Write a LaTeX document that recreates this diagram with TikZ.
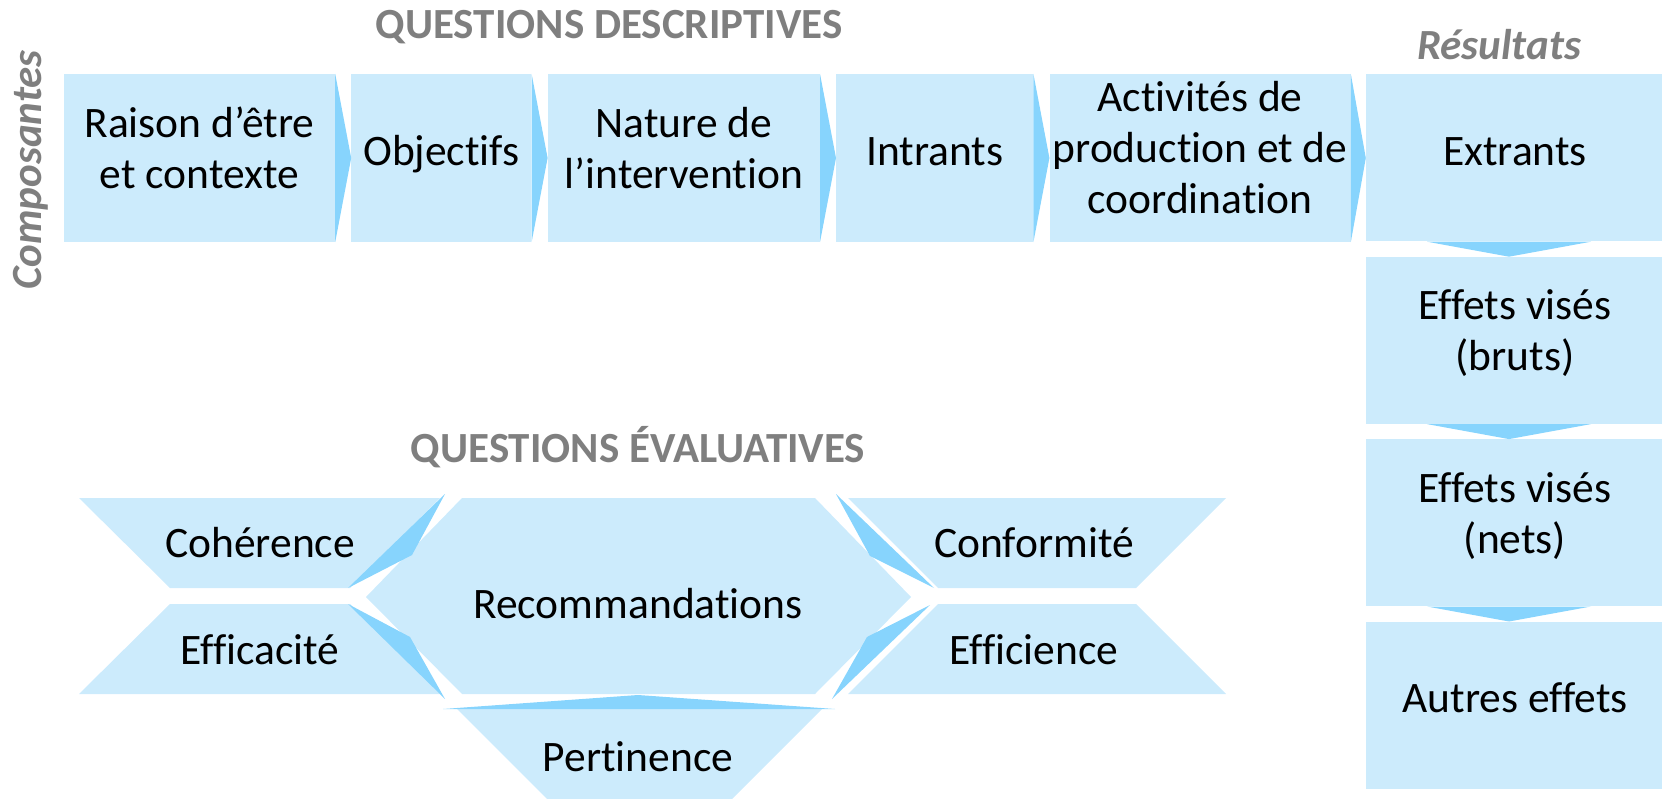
\documentclass[tikz,border=0pt]{standalone}
\usepackage{fontspec}
\setmainfont{Carlito}[Ligatures={NoCommon}]
\usetikzlibrary{positioning}

\definecolor{boxblue}{HTML}{CCEBFC}
\definecolor{tipblue}{HTML}{87D4FD}
\definecolor{titlegray}{HTML}{7F7F7F}

\newcommand{\boxstrut}{\rule[-20.5pt]{0pt}{56.5pt}}

\begin{document}
\begin{tikzpicture}[x=1pt, y=-1pt, node distance=16pt,
  stepbox/.style={rectangle, fill=boxblue, inner sep=0pt, minimum height=168pt, align=center,
    font=\fontsize{43.5}{51}\selectfont, execute at begin node=\boxstrut, execute at end node=\boxstrut},
  resbox/.style={stepbox, minimum width=298pt, minimum height=167pt},
  title/.style={font=\fontsize{43}{50}\selectfont\bfseries, text=titlegray, anchor=base},
  tagline/.style={title, font=\fontsize{43}{50}\selectfont\bfseries\itshape},
  label/.style={align=center, font=\fontsize{43.5}{51}\selectfont},
  panel/.style={fill=boxblue},
  tip/.style={fill=tipblue}
]

\useasboundingbox (0,0) rectangle (1662,799);

% descriptive chain
\node[stepbox, minimum width=271pt] (raison) at (199.5,158) {Raison d’être\\et contexte};
\node[stepbox, minimum width=180pt, right=of raison] (objectifs) {Objectifs};
\node[stepbox, minimum width=272pt, right=of objectifs] (nature) {Nature de\\l’intervention};
\node[stepbox, minimum width=197pt, right=of nature] (intrants) {Intrants};
\node[stepbox, minimum width=301pt, right=of intrants] (activites) {Activités de\\production et de\\coordination};
\node[resbox, right=15pt of activites] (extrants) {Extrants};
\node[resbox, below=15pt of extrants] (bruts) {Effets visés\\(bruts)};
\node[resbox, below=15pt of bruts] (nets) {Effets visés\\(nets)};
\node[resbox, below=15pt of nets] (autres) {Autres effets};

\foreach \a/\b in {raison/objectifs, objectifs/nature, nature/intrants, intrants/activites, activites/extrants}
  \fill[tip] (\a.north east) -- (\b.west) -- (\a.south east) -- cycle;
\foreach \a/\b in {extrants/bruts, bruts/nets, nets/autres}
  \fill[tip] ([xshift=-88pt]\a.south) -- ([xshift=-6pt]\b.north) -- ([xshift=76pt]\a.south) -- cycle;

\node[title] (descr) at (609,39) {QUESTIONS DESCRIPTIVES};
\node[tagline] (resultats) at (1499,60) {Résultats};
\node[tagline, rotate=90] (composantes) at (41,170) {Composantes};

% evaluative questions
\node[title] (eval) at (638,462) {QUESTIONS ÉVALUATIVES};

\fill[panel] (79,498) -- (440,498) -- (350,588) -- (170,588) -- cycle;
\fill[panel] (170,604) -- (350,604) -- (440,694) -- (79,694) -- cycle;
\fill[panel] (366,597) -- (462,498) -- (815,498) -- (911,597) -- (815,694) -- (462,694) -- cycle;
\fill[panel] (848,498) -- (1226,498) -- (1136,588) -- (938,588) -- cycle;
\fill[panel] (938,604) -- (1136,604) -- (1226,694) -- (848,694) -- cycle;
\fill[panel] (457,709) -- (822,709) -- (722,809) -- (557,809) -- cycle;

\fill[tip] (445,494) -- (412,555) -- (348,588) -- cycle;
\fill[tip] (348,604) -- (410,637) -- (445,699) -- cycle;
\fill[tip] (836,494) -- (870,556) -- (934,588) -- cycle;
\fill[tip] (930,605) -- (867,637) -- (832,699) -- cycle;
\fill[tip] (443,709) -- (638,695) -- (835,709) -- cycle;

\node[label] (coherence) at (260,543) {Cohérence};
\node[label] (efficacite) at (260,650) {Efficacité};
\node[label] (recommandations) at (638,604) {Recommandations};
\node[label] (conformite) at (1034,543) {Conformité};
\node[label] (efficience) at (1034,650) {Efficience};
\node[label] (pertinence) at (638,757) {Pertinence};

\end{tikzpicture}
\end{document}
